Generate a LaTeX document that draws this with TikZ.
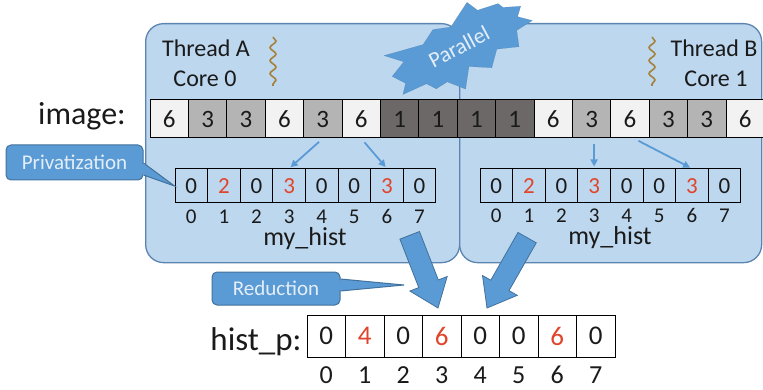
\documentclass[tikz,border=0pt]{standalone}
\usepackage{fontspec}
\setmainfont{Carlito}
\usetikzlibrary{arrows.meta,decorations.pathmorphing}
\newcommand\pxfont[1]{\fontsize{#1}{#1}\selectfont}

\definecolor{panelfill}{HTML}{BDD7EE}
\definecolor{panelline}{HTML}{5B84B1}
\definecolor{accent}{HTML}{5B9BD5}
\definecolor{accentline}{HTML}{41719C}
\definecolor{hotred}{HTML}{E0452B}
\definecolor{cell6}{HTML}{F2F2F2}
\definecolor{cell3}{HTML}{B4B4B4}
\definecolor{cell1}{HTML}{6B6867}
\definecolor{threadline}{HTML}{A4823E}
\definecolor{calloutink}{HTML}{E4EEF8}
\definecolor{ink}{HTML}{1A1A1A}

\begin{document}
\begin{tikzpicture}[x=1pt, y=-1pt,
  every node/.style={text=ink},
  panel/.style={draw=panelline, line width=1.3pt, fill=panelfill, rounded corners=18pt,
    inner sep=0pt, anchor=north west},
  imgcell/.style={draw=black, line width=1pt, minimum width=38.4pt, minimum height=38pt,
    inner sep=0pt, font=\pxfont{25}},
  histcell/.style={draw=black, line width=1pt, minimum width=32.6pt, minimum height=34pt,
    inner sep=0pt, font=\pxfont{23}},
  sumcell/.style={draw=black, line width=1pt, minimum width=38.5pt, minimum height=42pt,
    inner sep=0pt, font=\pxfont{27}},
  idx/.style={anchor=base, inner sep=0pt, font=\pxfont{21}},
  bigidx/.style={anchor=base, inner sep=0pt, font=\pxfont{26}},
  label/.style={anchor=base, inner sep=0pt, font=\pxfont{24}},
  thinarrow/.style={draw=accent, line width=1.8pt, -{Triangle[length=7pt,width=7pt]}},
  callout/.style={fill=accent, draw=accentline, line width=1pt},
  callouttext/.style={text=calloutink, font=\pxfont{21}},
  bigarrow/.style={fill=accent, draw=accentline, line width=0.8pt},
  squiggle/.style={draw=threadline, line width=1.6pt, decorate,
    decoration={snake, amplitude=3pt, segment length=13pt}}
]
\useasboundingbox (0,0) rectangle (763,390);

% two thread panels
\node[panel, minimum width=314pt, minimum height=239pt] (panelA) at (145,23) {};
\node[panel, minimum width=302pt, minimum height=239pt] (panelB) at (459,23) {};

% thread captions
\node[label] (threadA) at (206,57) {Thread A};
\node[label] (coreA) at (205,87) {Core 0};
\node[label] (threadB) at (714,57) {Thread B};
\node[label] (coreB) at (716,87) {Core 1};
\draw[squiggle] (273,37) -- (273,86);
\draw[squiggle] (652,37) -- (652,86);

% starburst (explosion outline, unit box, centred)
\begin{scope}[shift={(462,48)}, rotate=28, xscale=150, yscale=76]
  \draw[fill=accent, draw=accentline, line width=0.8pt/150]
    (0,-0.3125) -- (0.1723,-0.5) -- (0.2097,-0.3422) -- (0.3509,-0.2937) --
    (0.3688,-0.2178) -- (0.4767,-0.1233) -- (0.4254,-0.0203) -- (0.5,0.1153) --
    (0.3773,0.1339) -- (0.3400,0.3377) -- (0.2013,0.2286) -- (0.1133,0.4137) --
    (-0.0167,0.2584) -- (-0.1072,0.5) -- (-0.1928,0.3017) -- (-0.2795,0.3156) --
    (-0.3208,0.1960) -- (-0.4938,0.1753) -- (-0.4424,0.0609) -- (-0.5,-0.1012) --
    (-0.3858,-0.1990) -- (-0.4829,-0.3938) -- (-0.2180,-0.2800) -- (-0.1133,-0.3938) -- cycle;
\end{scope}
\node[rotate=28, text=calloutink, font=\pxfont{22}, inner sep=0pt] (parallel) at (459,47) {Parallel};

% image row
\node[anchor=base, inner sep=0pt, font=\pxfont{32}] (imglabel) at (82,125) {image:};
\foreach \v [count=\i from 0] in {6,3,3,6,3,6,1,1,1,1,6,3,6,3,3,6}
  \node[imgcell, fill=cell\v] (img\i) at ({150+38.4*(\i+0.5)},119) {\v};

% private histograms
\foreach \v/\c [count=\i from 0] in {0/ink,2/hotred,0/ink,3/hotred,0/ink,0/ink,3/hotred,0/ink} {
  \node[histcell, text=\c] (la\i) at ({175+32.6*(\i+0.5)},186) {\v};
  \node[histcell, text=\c] (ra\i) at ({480+32.6*(\i+0.5)},186) {\v};
  \node[idx] (lai\i) at ({175+32.6*(\i+0.5)},224) {\i};
  \node[idx] (rai\i) at ({480+32.6*(\i+0.5)},223) {\i};
}
\node[anchor=base, inner sep=0pt, font=\pxfont{26}] (histA) at (305,246) {my\_hist};
\node[anchor=base, inner sep=0pt, font=\pxfont{26}] (histB) at (610,244) {my\_hist};

% reads from the image into the private histograms
\draw[thinarrow, shorten <=5pt, shorten >=2pt] (img4.south) -- (la3.north);
\draw[thinarrow, shorten <=5pt, shorten >=2pt] (img5.south) -- (la6.north);
\draw[thinarrow, shorten <=6pt, shorten >=2pt] (img11.south -| ra3.north) -- (ra3.north);
\draw[thinarrow, shorten <=5pt, shorten >=2pt] ([xshift=4pt]img12.south) -- (ra6.north);

% shared histogram
\node[anchor=base, inner sep=0pt, font=\pxfont{33}] (histp) at (256,350) {hist\_p:};
\foreach \v/\c [count=\i from 0] in {0/ink,4/hotred,0/ink,6/hotred,0/ink,0/ink,6/hotred,0/ink} {
  \node[sumcell, text=\c] (hp\i) at ({307+38.5*(\i+0.5)},336) {\v};
  \node[bigidx] (hpi\i) at ({307+38.5*(\i+0.5)},383) {\i};
}

% reduction arrows
\begin{scope}[shift={(438,308)}, rotate=-68.7]
  \draw[bigarrow] (0,0) -- (-26,20) -- (-26,10.5) -- (-78,10.5) -- (-78,-10.5) -- (-26,-10.5) -- (-26,-20) -- cycle;
\end{scope}
\begin{scope}[shift={(487,308)}, rotate=-119.7]
  \draw[bigarrow] (0,0) -- (-26,20) -- (-26,10.5) -- (-81,10.5) -- (-81,-10.5) -- (-26,-10.5) -- (-26,-20) -- cycle;
\end{scope}
\coordinate (redtip) at (404,285);

% callouts
\node[callout, rounded corners=5pt, minimum width=137pt, minimum height=35pt, inner sep=0pt] (priv) at (74.5,162.5) {};
\draw[callout] ([yshift=-0.5pt]priv.east) -- (la0.west) -- ([yshift=-12.5pt]priv.east);
\fill[accent] ([xshift=-2.5pt,yshift=-2pt]priv.east) rectangle ([xshift=1.5pt,yshift=-11.5pt]priv.east);
\node[callouttext] (privtext) at (priv.center) {Privatization};

\node[callout, rounded corners=5pt, minimum width=128pt, minimum height=33pt, inner sep=0pt] (red) at (276,288.5) {};
\draw[callout] ([yshift=9.5pt]red.east) -- (redtip) -- ([yshift=-2.5pt]red.east);
\fill[accent] ([xshift=-2.5pt,yshift=8pt]red.east) rectangle ([xshift=1.5pt,yshift=-1.5pt]red.east);
\node[callouttext] (redtext) at (red.center) {Reduction};
\end{tikzpicture}
\end{document}
